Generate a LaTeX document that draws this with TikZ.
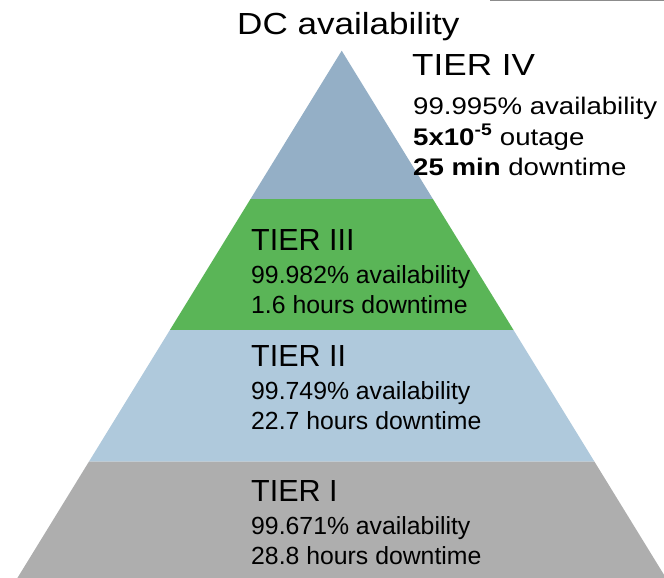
\documentclass[tikz,border=0pt]{standalone}
\usepackage{fontspec}
\setmainfont{Liberation Sans}
\newfontfamily\widefont[FakeStretch=1.15]{Liberation Sans}
\usetikzlibrary{positioning}
\definecolor{tierfour}{HTML}{94AFC6}
\definecolor{tierthree}{HTML}{5AB557}
\definecolor{tiertwo}{HTML}{AFC9DC}
\definecolor{tierone}{HTML}{AEAEAE}
\definecolor{rulegray}{HTML}{8C8C8C}
\tikzset{
  % testo in alto (piu largo)
  toptitle/.style={anchor=base west, inner sep=0pt, font=\widefont\fontsize{30.5}{36}\selectfont},
  topline/.style={anchor=base west, inner sep=0pt, font=\widefont\fontsize{24}{29}\selectfont},
  % testo nei livelli
  tiertitle/.style={anchor=base west, inner sep=0pt, font=\fontsize{30.5}{37}\selectfont},
  tierline/.style={anchor=base west, inner sep=0pt, font=\fontsize{24.8}{30}\selectfont},
}
\begin{document}
\begin{tikzpicture}[x=1pt, y=-1pt]
  \useasboundingbox (0,0) rectangle (664,578);
  % fasce della piramide
  \fill[tierfour] (341.7,50.7) -- (432.9,199) -- (250.5,199) -- cycle;
  \fill[tierthree] (250.5,199) -- (432.9,199) -- (513.5,330) -- (169.9,330) -- cycle;
  \fill[tiertwo] (169.9,330) -- (513.5,330) -- (594.5,461.7) -- (88.9,461.7) -- cycle;
  \fill[tierone] (88.9,461.7) -- (594.5,461.7) -- (666,578) -- (17.4,578) -- cycle;
  \draw[rulegray, line width=1.5pt] (490,0.7) -- (664,0.7);
  % titolo e livello IV
  \node[toptitle] (title) at (237,35) {DC availability};
  \node[toptitle] (t4) at (412,76) {TIER IV};
  \node[topline] (t4avail) at (413,114) {99.995\% availability};
  \node[topline] (t4out) at (413,145) {\textbf{5x10\textsuperscript{-5}} outage};
  \node[topline] (t4down) at (413,175) {\textbf{25 min} downtime};
  % livelli III, II, I
  \foreach \n/\y/\name/\av/\dt in {3/250.7/III/99.982/1.6, 2/366.7/II/99.749/22.7, 1/501.7/I/99.671/28.8} {
    \node[tiertitle] (t\n) at (251,\y) {TIER \name};
    \node[tierline] (t\n avail) at (251,\y+33) {\av\% availability};
    \node[tierline] (t\n down) at (251,\y+63) {\dt{} hours downtime};
  }
\end{tikzpicture}
\end{document}
